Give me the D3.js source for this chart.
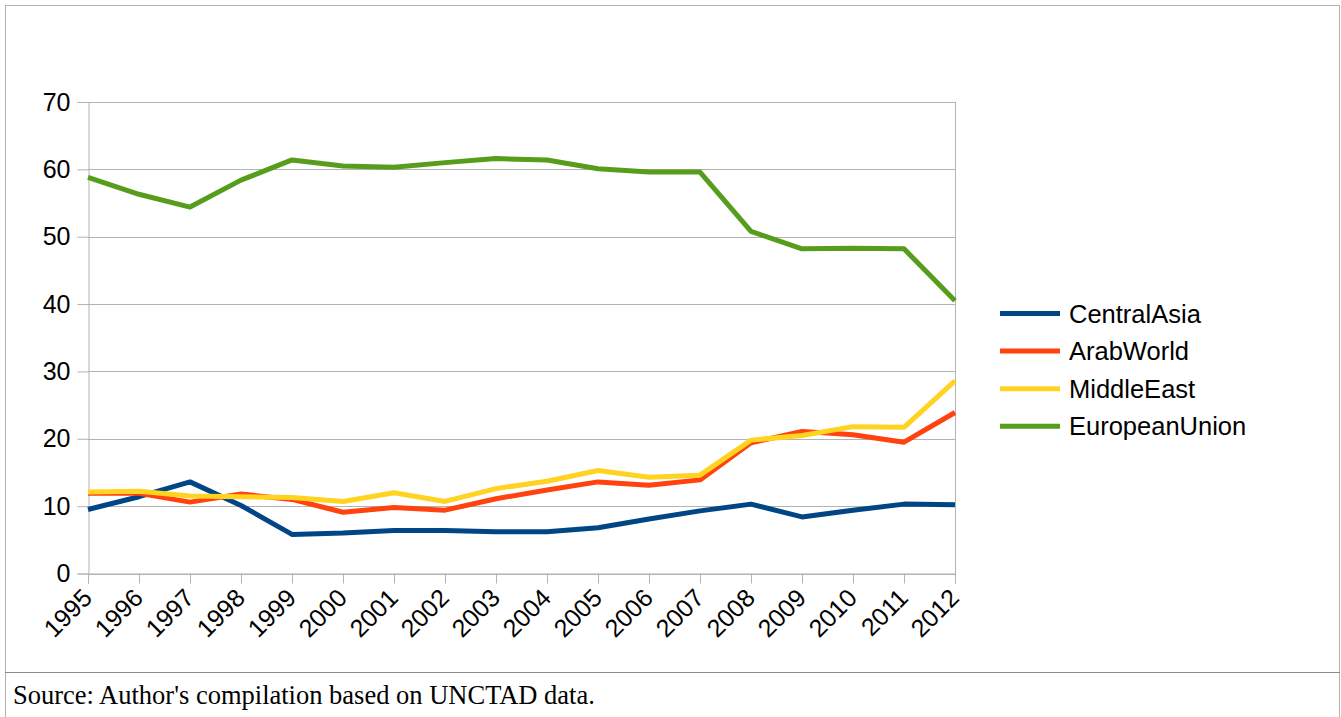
<!DOCTYPE html>
<html>
<head>
<meta charset="utf-8">
<script src="https://cdn.jsdelivr.net/npm/d3@7"></script>
<style>
html,body{margin:0;padding:0;background:#fff;}
svg{display:block;}
</style>
</head>
<body>
<svg id="chart" width="1341" height="717"></svg>
<script>
const years = ["1995","1996","1997","1998","1999","2000","2001","2002","2003","2004","2005","2006","2007","2008","2009","2010","2011","2012"];
const seriesNames = ["CentralAsia","ArabWorld","MiddleEast","EuropeanUnion"];
const seriesColors = ["#004586","#ff420e","#ffd320","#579d1c"];
const centralAsia = [9.5,11.4,13.6,10.1,5.8,6.0,6.4,6.4,6.2,6.2,6.8,8.1,9.3,10.3,8.4,9.4,10.3,10.2];
const arabWorld = [11.9,11.9,10.6,11.8,11.0,9.1,9.8,9.4,11.1,12.4,13.6,13.1,13.9,19.4,21.1,20.6,19.5,23.9];
const middleEast = [12.1,12.2,11.5,11.4,11.3,10.7,12.0,10.7,12.6,13.7,15.3,14.3,14.6,19.8,20.5,21.8,21.7,28.6];
const europeanUnion = [58.8,56.3,54.4,58.4,61.4,60.5,60.3,61.0,61.6,61.4,60.1,59.6,59.6,50.8,48.2,48.3,48.2,40.5];
const yTicks = [0,10,20,30,40,50,60,70];
const sourceNote = "Source: Author's compilation based on UNCTAD data.";

const allSeries = [centralAsia, arabWorld, middleEast, europeanUnion];

const svg = d3.select("#chart");
const W = 1341, H = 717;

// frame
svg.append("rect").attr("x",5.5).attr("y",5.5).attr("width",1334).attr("height",H+10)
  .attr("fill","none").attr("stroke","#b3b3b3").attr("stroke-width",1);
svg.append("line").attr("x1",5).attr("x2",1340).attr("y1",672.5).attr("y2",672.5)
  .attr("stroke","#8c8c8c").attr("stroke-width",1);

const x = d3.scalePoint().domain(years).range([88, 955]);
const y = d3.scaleLinear().domain([0,70]).range([573.5, 102]);

const font = "'Liberation Sans', Arial, sans-serif";

// gridlines
svg.append("g").selectAll("line").data(yTicks).join("line")
  .attr("x1",88).attr("x2",955)
  .attr("y1",d=>Math.round(y(d))+0.5).attr("y2",d=>Math.round(y(d))+0.5)
  .attr("stroke","#b3b3b3").attr("stroke-width",1);

// y axis
const yAxis = svg.append("g").attr("transform","translate(88.5,0)")
  .call(d3.axisLeft(y).tickValues(yTicks).tickSize(11).tickPadding(7).tickFormat(d3.format("d")));
yAxis.select(".domain").attr("stroke","#b3b3b3");
yAxis.selectAll(".tick line").attr("stroke","#b3b3b3");
yAxis.selectAll("text").attr("font-family",font).attr("font-size",25).attr("fill","#000");

// x axis
const xAxis = svg.append("g").attr("transform","translate(0,573.5)")
  .call(d3.axisBottom(x).tickSize(10).tickFormat(d=>d));
xAxis.select(".domain").attr("stroke","#b3b3b3");
xAxis.selectAll(".tick line").attr("stroke","#b3b3b3");
xAxis.selectAll("text").attr("font-family",font).attr("font-size",25).attr("fill","#000")
  .attr("text-anchor","end").attr("dy",null).attr("y",0)
  .attr("transform","translate(5,26) rotate(-45)");

// right border of plot
svg.append("line").attr("x1",955.5).attr("x2",955.5).attr("y1",102).attr("y2",574)
  .attr("stroke","#b3b3b3");

// lines
const line = d3.line().x((d,i)=>x(years[i])).y(d=>y(d));
svg.append("g").selectAll("path").data(allSeries).join("path")
  .attr("d",d=>line(d)).attr("fill","none")
  .attr("stroke",(d,i)=>seriesColors[i]).attr("stroke-width",5)
  .attr("stroke-linejoin","round").attr("stroke-linecap","butt");

// legend
const leg = svg.append("g").selectAll("g").data(seriesNames).join("g")
  .attr("transform",(d,i)=>`translate(1000,${313.5 + i*37.6})`);
leg.append("line").attr("x1",0).attr("x2",60).attr("y1",0).attr("y2",0)
  .attr("stroke",(d,i)=>seriesColors[i]).attr("stroke-width",5);
leg.append("text").attr("x",69).attr("y",9).text(d=>d)
  .attr("font-family",font).attr("font-size",25.5).attr("fill","#000");

// source
svg.append("text").attr("x",13).attr("y",704).text(sourceNote)
  .attr("font-family","'Liberation Serif','Times New Roman',serif").attr("font-size",26.5).attr("fill","#000");
</script>
</body>
</html>
